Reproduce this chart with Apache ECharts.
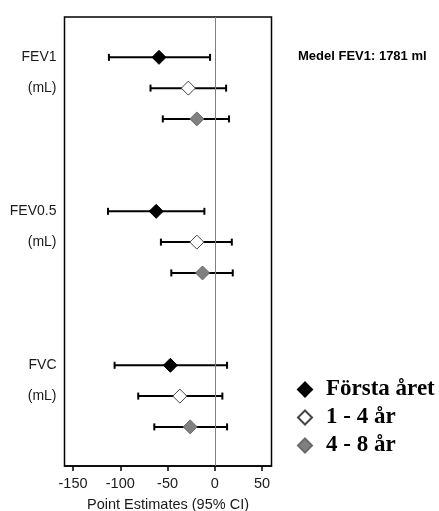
<!DOCTYPE html>
<html><head><meta charset="utf-8">
<script src="https://cdn.jsdelivr.net/npm/echarts@6/dist/echarts.min.js"></script>
<style>html,body{margin:0;padding:0;background:#fff}#c{width:439px;height:511px}</style>
</head><body><div id="c"></div>
<script>
// Data
const groups = ['FEV1', 'FEV0.5', 'FVC'];
const unitLabel = '(mL)';
const seriesNames = ['Första året', '1 - 4 år', '4 - 8 år'];
// point estimates per group (FEV1, FEV0.5, FVC)
const estFirst = [-59, -62, -47];
const lowFirst = [-112, -113, -106];
const highFirst = [-5, -11, 13];
const est1to4 = [-28, -19, -37];
const low1to4 = [-68, -57, -81];
const high1to4 = [12, 18, 8];
const est4to8 = [-19, -13, -26];
const low4to8 = [-55, -46, -64];
const high4to8 = [15, 19, 13];
const xTicks = [-150, -100, -50, 0, 50];
const noteText = 'Medel FEV1: 1781 ml';
const xAxisTitle = 'Point Estimates (95% CI)';

const ests = [estFirst, est1to4, est4to8];
const lows = [lowFirst, low1to4, low4to8];
const highs = [highFirst, high1to4, high4to8];
const rowOf = (g, s) => g * 5 + s;

const yLabelVals = [];
const yLabelMap = {};
groups.forEach((g, i) => {
  yLabelVals.push(rowOf(i, 0), rowOf(i, 1));
  yLabelMap[rowOf(i, 0)] = g;
  yLabelMap[rowOf(i, 1)] = unitLabel;
});

const errData = [];
ests.forEach((arr, s) => arr.forEach((v, g) => errData.push([rowOf(g, s), lows[s][g], highs[s][g]])));

const styles = [
  { color: '#000', borderColor: '#000', borderWidth: 1, opacity: 1 },
  { color: '#fff', borderColor: '#444', borderWidth: 1, opacity: 1 },
  { color: '#808080', borderColor: '#6a6a6a', borderWidth: 1, opacity: 1 }
];

const chart = echarts.init(document.getElementById('c'));
const font = 'Liberation Sans, Arial, sans-serif';
chart.setOption({
  animation: false,
  title: {
    text: noteText, left: 293, top: 45,
    textStyle: { fontFamily: font, fontSize: 13, fontWeight: 'bold', color: '#000' }
  },
  legend: {
    orient: 'vertical', left: 292, top: 373, itemWidth: 14, itemHeight: 14, itemGap: 5,
    icon: 'diamond',
    data: seriesNames,
    textStyle: { fontFamily: 'Liberation Serif, Times New Roman, serif', fontSize: 23, fontWeight: 'bold', color: '#000', padding: [0, 0, 0, 9] }
  },
  grid: { left: 64.5, right: 167.5, top: 17, bottom: 45, show: true, borderColor: '#000', borderWidth: 1.5, containLabel: false, outerBoundsMode: 'none' },
  xAxis: {
    type: 'value', min: -159, max: 60,
    splitLine: { show: false },
    axisLine: { onZero: false, lineStyle: { color: '#000', width: 1.5 } },
    axisTick: { customValues: xTicks, length: 5, lineStyle: { color: '#000', width: 1.5 } },
    axisLabel: { customValues: xTicks, margin: 10, fontFamily: font, fontSize: 14.5, color: '#1a1a1a' },
    name: xAxisTitle, nameLocation: 'middle', nameGap: 31,
    nameTextStyle: { fontFamily: font, fontSize: 14.5, color: '#1a1a1a' }
  },
  yAxis: {
    type: 'value', inverse: true, min: -1.31, max: 13.27,
    splitLine: { show: false },
    axisLine: { show: false },
    axisTick: { show: false },
    axisLabel: {
      customValues: yLabelVals, margin: 8, fontFamily: font, fontSize: 14, color: '#1a1a1a',
      formatter: v => yLabelMap[Math.round(v)] || ''
    }
  },
  series: [
    {
      type: 'custom', name: 'ci', silent: true, z: 2,
      data: errData,
      encode: { x: [1, 2], y: 0 },
      renderItem: (params, api) => {
        const r = api.value(0);
        const a = api.coord([api.value(1), r]);
        const b = api.coord([api.value(2), r]);
        const h = 3.5;
        const st = { stroke: '#000', lineWidth: 2 };
        return { type: 'group', children: [
          { type: 'line', shape: { x1: a[0], y1: a[1], x2: b[0], y2: b[1] }, style: st },
          { type: 'line', shape: { x1: a[0], y1: a[1] - h, x2: a[0], y2: a[1] + h }, style: st },
          { type: 'line', shape: { x1: b[0], y1: b[1] - h, x2: b[0], y2: b[1] + h }, style: st }
        ]};
      },
      markLine: {
        silent: true, symbol: ['none', 'none'], label: { show: false },
        lineStyle: { color: '#808080', width: 1, type: 'solid' },
        data: [{ xAxis: 0 }]
      }
    },
    ...seriesNames.map((name, s) => ({
      type: 'scatter', name, symbol: 'diamond', symbolSize: [14, 14], z: 5,
      itemStyle: styles[s],
      data: ests[s].map((v, g) => [v, rowOf(g, s)])
    }))
  ]
});
</script></body></html>
